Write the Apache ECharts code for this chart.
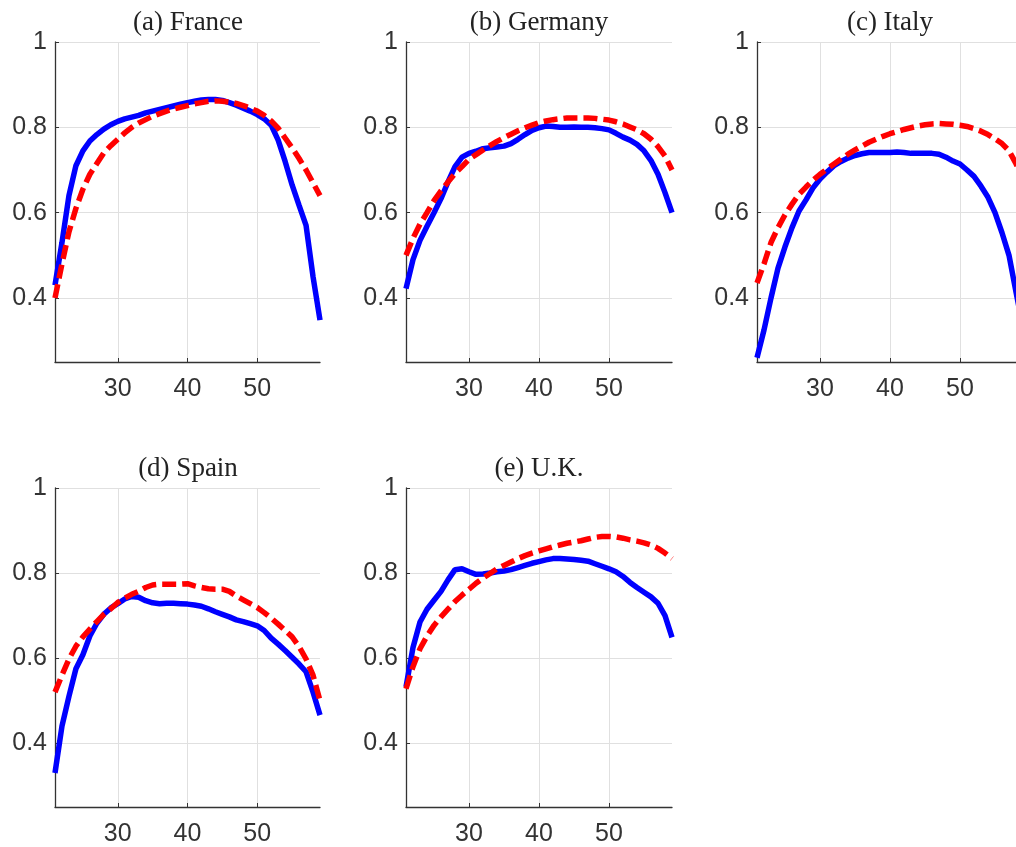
<!DOCTYPE html>
<html>
<head>
<meta charset="utf-8">
<script src="https://cdn.jsdelivr.net/npm/echarts@6/dist/echarts.min.js"></script>
<style>
html,body{margin:0;padding:0;background:#ffffff;}
#chart{width:1016px;height:847px;}
</style>
</head>
<body>
<div id="chart"></div>
<script>
// ---------------- data ----------------
const ages = [21,22,23,24,25,26,27,28,29,30,31,32,33,34,35,36,37,38,39,40,
              41,42,43,44,45,46,47,48,49,50,51,52,53,54,55,56,57,58,59];
const panelTitles = ['(a) France', '(b) Germany', '(c) Italy', '(d) Spain', '(e) U.K.'];
const xTickValues = [30, 40, 50];
const yTickValues = [0.4, 0.6, 0.8, 1];

// blue solid series
const franceSolid  = [0.43,0.53,0.64,0.71,0.745,0.768,0.783,0.796,0.806,0.814,0.82,0.824,0.828,0.834,0.838,0.842,0.846,0.85,0.854,0.858,0.861,0.864,0.865,0.865,0.863,0.858,0.852,0.845,0.838,0.83,0.82,0.805,0.77,0.72,0.665,0.617,0.57,0.45,0.348];
const germanySolid = [0.422,0.49,0.535,0.568,0.60,0.633,0.672,0.708,0.73,0.739,0.744,0.75,0.752,0.754,0.756,0.762,0.772,0.783,0.793,0.799,0.803,0.802,0.80,0.80,0.801,0.80,0.80,0.799,0.797,0.794,0.786,0.777,0.77,0.76,0.745,0.722,0.69,0.647,0.60];
const italySolid   = [0.26,0.325,0.40,0.47,0.52,0.565,0.604,0.63,0.658,0.679,0.695,0.71,0.72,0.728,0.734,0.738,0.741,0.741,0.741,0.741,0.742,0.741,0.739,0.739,0.739,0.739,0.737,0.73,0.721,0.714,0.70,0.685,0.662,0.636,0.60,0.553,0.50,0.414,0.33];
const spainSolid   = [0.33,0.44,0.51,0.575,0.608,0.652,0.682,0.703,0.718,0.728,0.739,0.745,0.743,0.735,0.73,0.728,0.729,0.729,0.728,0.727,0.725,0.722,0.716,0.709,0.703,0.697,0.69,0.686,0.681,0.676,0.665,0.647,0.633,0.618,0.602,0.586,0.568,0.52,0.466];
const ukSolid      = [0.532,0.625,0.685,0.715,0.736,0.757,0.784,0.808,0.81,0.803,0.797,0.798,0.80,0.803,0.805,0.808,0.813,0.818,0.823,0.827,0.831,0.834,0.834,0.833,0.832,0.83,0.828,0.822,0.816,0.81,0.803,0.792,0.778,0.766,0.755,0.744,0.729,0.70,0.649];

// red dashed series
const franceDashed  = [0.40,0.48,0.555,0.61,0.655,0.69,0.715,0.74,0.757,0.772,0.787,0.80,0.81,0.818,0.826,0.832,0.838,0.843,0.847,0.851,0.855,0.858,0.861,0.862,0.861,0.859,0.856,0.851,0.845,0.838,0.828,0.815,0.798,0.775,0.752,0.727,0.70,0.67,0.64];
const germanyDashed = [0.50,0.54,0.573,0.60,0.628,0.651,0.672,0.692,0.708,0.725,0.736,0.747,0.757,0.767,0.776,0.784,0.792,0.799,0.805,0.811,0.815,0.818,0.82,0.822,0.822,0.822,0.822,0.821,0.819,0.817,0.813,0.808,0.801,0.794,0.785,0.772,0.755,0.733,0.70];
const italyDashed   = [0.435,0.48,0.53,0.565,0.595,0.62,0.643,0.66,0.676,0.69,0.702,0.714,0.726,0.737,0.747,0.756,0.765,0.772,0.779,0.785,0.79,0.795,0.799,0.803,0.806,0.808,0.809,0.808,0.807,0.805,0.802,0.797,0.791,0.783,0.773,0.762,0.745,0.715,0.675];
const spainDashed   = [0.52,0.56,0.598,0.628,0.65,0.668,0.686,0.703,0.716,0.731,0.741,0.75,0.757,0.766,0.772,0.774,0.774,0.774,0.774,0.775,0.77,0.766,0.763,0.762,0.762,0.757,0.746,0.737,0.728,0.719,0.707,0.694,0.68,0.665,0.65,0.627,0.598,0.56,0.50];
const ukDashed      = [0.528,0.58,0.622,0.652,0.677,0.697,0.715,0.733,0.748,0.762,0.776,0.788,0.799,0.81,0.818,0.826,0.834,0.841,0.847,0.852,0.857,0.862,0.866,0.87,0.873,0.876,0.88,0.884,0.886,0.886,0.885,0.882,0.878,0.875,0.871,0.866,0.858,0.847,0.834];

const solidSets  = [franceSolid, germanySolid, italySolid, spainSolid, ukSolid];
const dashedSets = [franceDashed, germanyDashed, italyDashed, spainDashed, ukDashed];

// ---------------- layout ----------------
const gridBoxes = [
  {left: 55,  top: 42,  width: 265, height: 320},
  {left: 406, top: 42,  width: 266, height: 320},
  {left: 757, top: 42,  width: 266, height: 320},
  {left: 55,  top: 488, width: 265, height: 319},
  {left: 406, top: 488, width: 266, height: 319}
];

const axisColor = '#333333';
const gridColor = '#e0e0e0';
const labelFont = 'Liberation Sans, Arial, sans-serif';

const zip = (xs, ys) => xs.map((x, i) => [x, ys[i]]);

const grids = [], xAxes = [], yAxes = [], series = [], graphics = [];
gridBoxes.forEach((g, i) => {
  grids.push(Object.assign({containLabel: false, outerBoundsMode: 'none'}, g));
  xAxes.push({
    type: 'value', gridIndex: i, min: 21, max: 59,
    axisLine: {show: true, onZero: false, lineStyle: {color: axisColor, width: 1.3}},
    axisTick: {show: true, inside: true, length: 4, customValues: xTickValues, lineStyle: {color: axisColor}},
    axisLabel: {show: true, customValues: xTickValues, margin: 15, fontSize: 25, color: axisColor, fontFamily: labelFont},
    splitLine: {show: true, lineStyle: {color: gridColor, width: 1}}
  });
  yAxes.push({
    type: 'value', gridIndex: i, min: 0.25, max: 1,
    axisLine: {show: true, onZero: false, lineStyle: {color: axisColor, width: 1.3}},
    axisTick: {show: true, inside: true, length: 4, customValues: yTickValues, lineStyle: {color: axisColor}},
    axisLabel: {show: true, customValues: yTickValues, margin: 8, fontSize: 25, color: axisColor, fontFamily: labelFont,
                formatter: v => String(Math.round(v * 10) / 10)},
    splitLine: {show: true, lineStyle: {color: gridColor, width: 1}}
  });
  series.push({
    type: 'line', xAxisIndex: i, yAxisIndex: i, data: zip(ages, solidSets[i]),
    showSymbol: false, symbol: 'none', smooth: false,
    lineStyle: {color: '#0000ff', width: 5.5, type: 'solid'}, z: 3
  });
  series.push({
    type: 'line', xAxisIndex: i, yAxisIndex: i, data: zip(ages, dashedSets[i]),
    showSymbol: false, symbol: 'none', smooth: false,
    lineStyle: {color: '#ff0000', width: 5.5, type: [14, 6]}, z: 4
  });
  graphics.push({
    type: 'text',
    x: g.left + 266 / 2, y: g.top - 19,
    style: {text: panelTitles[i], fill: '#222222', font: '27px "Liberation Serif", "Times New Roman", serif',
            align: 'center', verticalAlign: 'middle'}
  });
});

const chart = echarts.init(document.getElementById('chart'), null, {renderer: 'canvas'});
chart.setOption({
  animation: false,
  backgroundColor: '#ffffff',
  grid: grids,
  xAxis: xAxes,
  yAxis: yAxes,
  series: series,
  graphic: graphics
});
</script>
</body>
</html>
